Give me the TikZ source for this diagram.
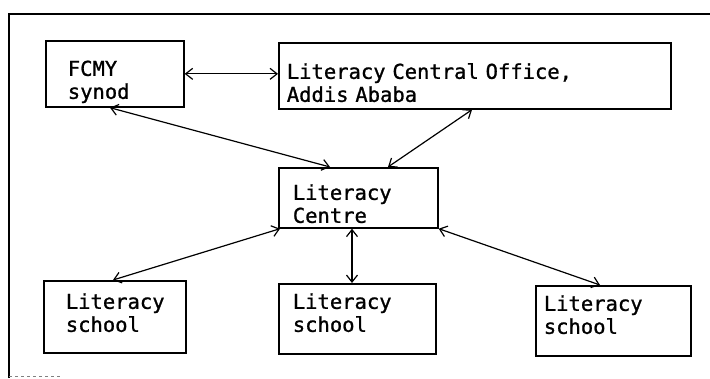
\documentclass[tikz,border=0pt]{standalone}
\usepackage{fontspec}
\newfontfamily\boxfont[FakeBold=1]{DejaVu Sans Mono}
\protected\def\boxtype{\boxfont\fontsize{20.5}{23}\selectfont\spaceskip=0.602em\relax}
\usetikzlibrary{arrows.meta}
\tikzset{
  box/.style={draw, line width=1.7pt, anchor=north west, align=left, inner ysep=0pt,
    text depth=26pt, font=\boxtype},
  link/.style={line width=1.2pt, {Straight Barb[length=7pt,width=11pt]}-{Straight Barb[length=7pt,width=11pt]}}
}
\begin{document}
\begin{tikzpicture}[x=1pt,y=-1pt]
\useasboundingbox (0,0) rectangle (710,378);
% frame
\draw[line width=1.3pt] (9,378)--(9,14)--(710,14);
\draw[gray,line width=0.8pt,dashed] (9,376)--(60,376);
% boxes
\node[box,inner xsep=22pt,text width=94pt,minimum height=66pt,text height=30pt] (fcmy) at (45,40) {FCMY\\synod};
\node[box,inner xsep=8pt,text width=376pt,minimum height=66pt,text height=32pt] (office) at (278,42) {Literacy Central Office,\\Addis Ababa};
\node[box,inner xsep=14pt,text width=131pt,minimum height=60pt,text height=30pt] (centre) at (278,167) {Literacy\\Centre};
\node[box,inner xsep=22pt,text width=98pt,minimum height=72pt,text height=10pt] (school1) at (43,280) {Literacy\\school};
\node[box,inner xsep=14pt,text width=129pt,minimum height=70pt,text height=6pt] (school2) at (278,283) {Literacy\\school};
\node[box,inner xsep=8pt,text width=139pt,minimum height=70pt,text height=6pt] (school3) at (535,285) {Literacy\\school};
% links
\draw[link] (fcmy.east) -- (fcmy.east -| office.west);
\draw[link] ([xshift=65pt]fcmy.south west) -- ([xshift=52pt]centre.north west);
\draw[link] ([xshift=194pt]office.south west) -- ([xshift=110pt]centre.north west);
\draw[link] ([xshift=2pt]centre.south west) -- ([xshift=70pt]school1.north west);
\draw[link] ([xshift=74pt]centre.south west) -- ([xshift=74pt]school2.north west);
\draw[link] (centre.south east) -- ([xshift=65pt]school3.north west);
\end{tikzpicture}
\end{document}
